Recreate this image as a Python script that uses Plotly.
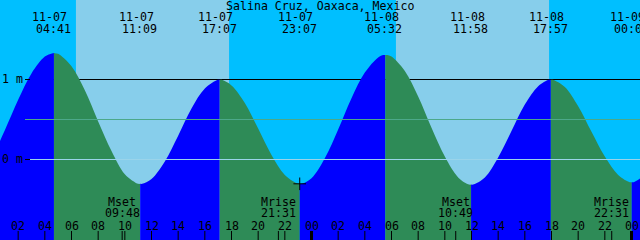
import plotly.graph_objects as go

# ---------------- data (hours since 11-07 00:00) ----------------
title_text = "Salina Cruz, Oaxaca, Mexico"

ext_date = ["11-07", "11-07", "11-07", "11-07", "11-08", "11-08", "11-08", "11-09"]
ext_time = ["04:41", "11:09", "17:07", "23:07", "05:32", "11:58", "17:57", "00:01"]
ext_hour = [4.683, 11.15, 17.117, 23.117, 29.533, 35.967, 41.95, 48.017]
ext_height = [1.325, -0.31, 0.99, -0.31, 1.30, -0.32, 0.99, -0.29]

# tide height (hour, metres)
curve_hour = [-1, 0, 1, 2, 3, 4, 4.533, 4.833, 5, 6, 7, 8, 9, 10, 11, 11.3,
              12, 13, 14, 15, 16, 16.967, 17.267, 18, 19, 20, 21, 22, 23, 23.267,
              24, 25, 26, 27, 28, 29, 29.383, 29.683, 30, 31, 32, 33, 34, 35,
              35.817, 36.117, 37, 38, 39, 40, 41, 41.8, 42.1, 43, 44, 45, 46, 47,
              47.867, 48.167, 49]
curve_height = [-0.23, 0.01, 0.36, 0.74, 1.07, 1.28, 1.32, 1.32, 1.315, 1.16, 0.86,
                0.47, 0.10, -0.19, -0.31, -0.31,
                -0.25, -0.03, 0.29, 0.63, 0.88, 0.99, 0.99, 0.92, 0.70, 0.38, 0.05,
                -0.20, -0.31, -0.31,
                -0.24, 0.01, 0.37, 0.76, 1.08, 1.27, 1.30, 1.30, 1.28, 1.10, 0.78,
                0.39, 0.03, -0.23,
                -0.32, -0.32, -0.23, 0.02, 0.35, 0.68, 0.91, 0.99, 0.99, 0.90, 0.66,
                0.34, 0.03, -0.20,
                -0.29, -0.29, -0.20]

sunrise_hour = [6.333, 30.333]
sunset_hour = [17.817, 41.817]

moon_label = ["Mset", "Mrise", "Mset", "Mrise"]
moon_time = ["09:48", "21:31", "10:49", "22:31"]
moon_hour = [9.8, 21.517, 34.817, 46.517]

tick_hour = [2, 4, 6, 8, 10, 12, 14, 16, 18, 20, 22, 24,
             26, 28, 30, 32, 34, 36, 38, 40, 42, 44, 46, 48]
tick_label = ["02", "04", "06", "08", "10", "12", "14", "16", "18", "20", "22", "00",
              "02", "04", "06", "08", "10", "12", "14", "16", "18", "20", "22", "00"]

level_value = [1.0, 0.5, 0.0]
level_label = ["1 m", None, "0 m"]

now_hour = 23.117
now_height = -0.31

# ---------------- styling ----------------
W, H = 640, 240
PX_PER_H = 640 / 48.0
X0 = 0.6375                      # hour at left edge
XR = [X0, X0 + 48]
YR = [-1.0125, 1.9875]
PX_PER_M = 80.0
NIGHT = "#00BFFF"
DAY = "#87CEEB"
RISE = "#0000FF"
FALL = "#2E8B57"
FONT = dict(family="DejaVu Sans Mono", size=11.6, color="black")
level_color = ["black", "#4CA88A", "#9AD4EA"]
level_layer = ["below", "above", "above"]


def py(px):
    return 1 - px / H


def hx(px):
    return X0 + px / PX_PER_H


fig = go.Figure()

# merge curve points with extremes
pts = sorted(list(zip(curve_hour, curve_height)) + list(zip(ext_hour, ext_height)))
bounds = [pts[0][0]] + ext_hour + [pts[-1][0]]
for a, b in zip(bounds[:-1], bounds[1:]):
    seg = [p for p in pts if a <= p[0] <= b]
    xs = [p[0] for p in seg]
    ys = [p[1] for p in seg]
    color = RISE if ys[-1] > ys[0] else FALL
    fig.add_trace(go.Scatter(x=[a, b], y=[-2, -2], mode="lines",
                             line=dict(width=0), showlegend=False, hoverinfo="skip"))
    fig.add_trace(go.Scatter(x=xs, y=ys, mode="lines", fill="tonexty",
                             fillcolor=color, line=dict(width=0, shape="spline", color=color),
                             showlegend=False, hoverinfo="skip"))

# now marker
fig.add_trace(go.Scatter(x=[now_hour], y=[now_height], mode="markers",
                         marker=dict(symbol="cross-thin", size=9,
                                     line=dict(width=1, color="black")),
                         showlegend=False, hoverinfo="skip"))

shapes = []
for sr, ss in zip(sunrise_hour, sunset_hour):
    shapes.append(dict(type="rect", xref="x", yref="paper", x0=sr, x1=ss, y0=0, y1=1,
                       fillcolor=DAY, line=dict(width=0), layer="below"))
for v, c, lay in zip(level_value, level_color, level_layer):
    yv = v - 0.5 / PX_PER_M
    shapes.append(dict(type="line", xref="x", yref="y", x0=hx(25), x1=XR[1], y0=yv, y1=yv,
                       line=dict(color=c, width=1), layer=lay))
for h in tick_hour:
    w = 3 if h % 24 == 0 else 1
    shapes.append(dict(type="line", xref="x", yref="paper", x0=h, x1=h,
                       y0=0, y1=py(231), line=dict(color="black", width=w), layer="above"))
for h in moon_hour:
    shapes.append(dict(type="line", xref="x", yref="paper", x0=h, x1=h,
                       y0=0, y1=py(231), line=dict(color="black", width=1), layer="above"))

ann = []
ann.append(dict(text=title_text, x=0.5, xref="paper", y=py(6), yref="paper",
                showarrow=False, font=FONT, xanchor="center", yanchor="middle"))
for d, t, h in zip(ext_date, ext_time, ext_hour):
    ann.append(dict(text=d, x=h - 4 / PX_PER_H, xref="x", y=py(17), yref="paper",
                    showarrow=False, font=FONT, xanchor="center", yanchor="middle"))
    ann.append(dict(text=t, x=h - 0.5 / PX_PER_H, xref="x", y=py(29), yref="paper",
                    showarrow=False, font=FONT, xanchor="center", yanchor="middle"))
for lab, t, h in zip(moon_label, moon_time, moon_hour):
    ann.append(dict(text=lab, x=h, xref="x", y=py(202), yref="paper",
                    showarrow=False, font=FONT, xanchor="center", yanchor="middle"))
    ann.append(dict(text=t, x=h, xref="x", y=py(213), yref="paper",
                    showarrow=False, font=FONT, xanchor="center", yanchor="middle"))
for h, lab in zip(tick_hour, tick_label):
    ann.append(dict(text=lab, x=h, xref="x", y=py(225.5), yref="paper",
                    showarrow=False, font=FONT, xanchor="center", yanchor="middle"))
for v, lab in zip(level_value, level_label):
    if lab:
        ann.append(dict(text=lab, x=0, xref="paper", y=v, yref="y",
                        showarrow=False, font=FONT, xanchor="left", yanchor="middle"))
        shapes.append(dict(type="line", xref="x", yref="y", x0=hx(25), x1=hx(30),
                           y0=v - 0.5 / PX_PER_M, y1=v - 0.5 / PX_PER_M,
                           line=dict(color="black", width=1), layer="above"))

fig.update_layout(
    width=W, height=H, autosize=False,
    margin=dict(l=0, r=0, t=0, b=0, pad=0),
    paper_bgcolor=NIGHT, plot_bgcolor=NIGHT,
    xaxis=dict(range=XR, visible=False, fixedrange=True),
    yaxis=dict(range=YR, visible=False, fixedrange=True),
    shapes=shapes, annotations=ann, showlegend=False,
)

fig.write_html("out.html", config=dict(displayModeBar=False))
